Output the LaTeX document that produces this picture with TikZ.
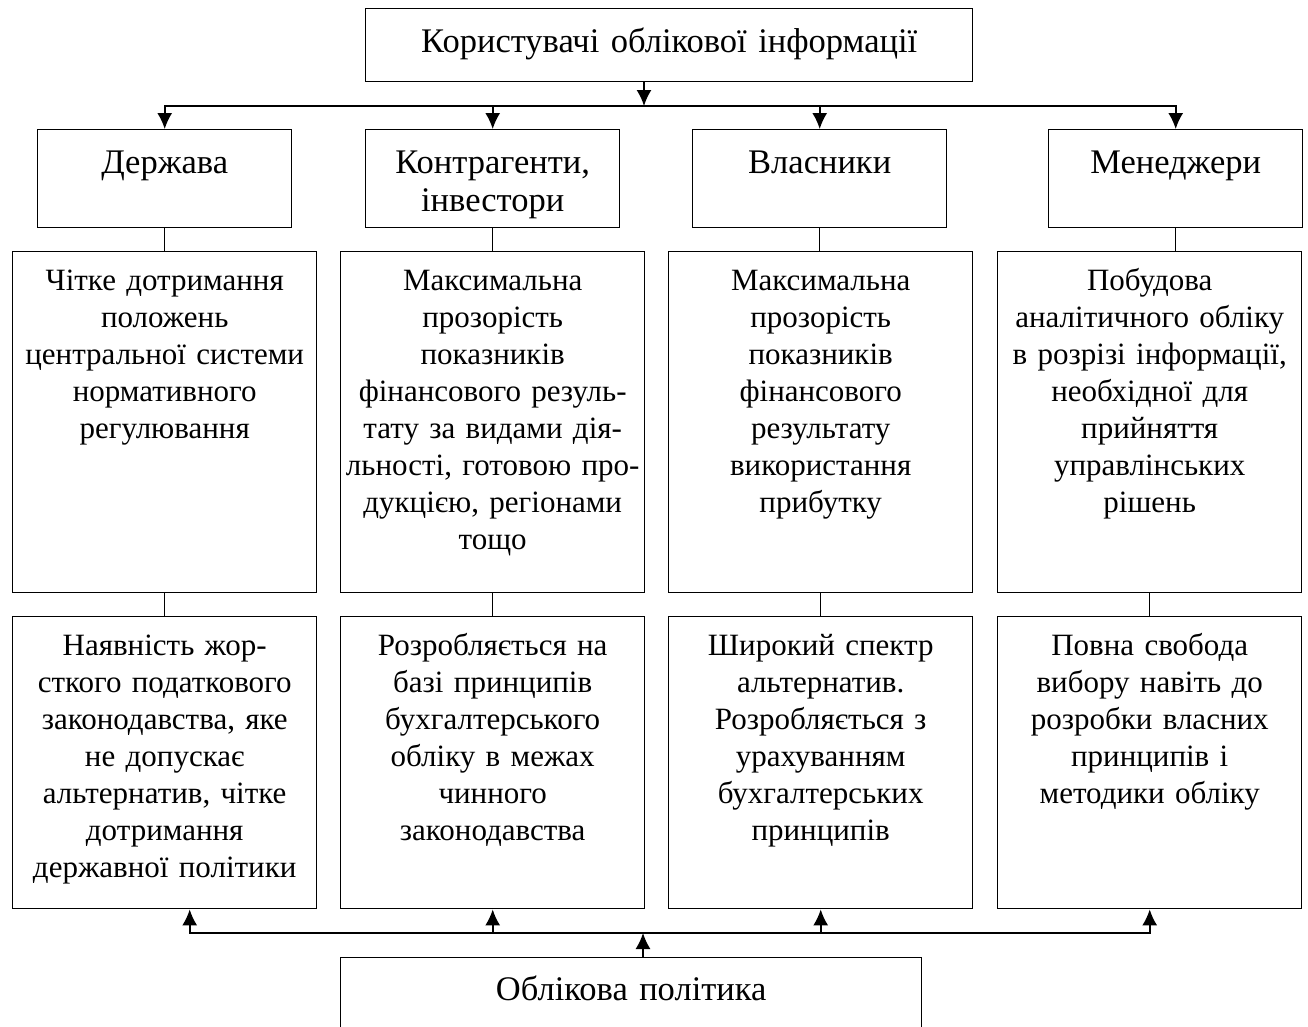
\documentclass[tikz,border=0pt]{standalone}
\usepackage{fontspec}
\setmainfont{Liberation Serif}
\usetikzlibrary{arrows.meta}

\tikzset{
  frame/.style={draw, line width=1.4pt, anchor=north west,
    inner xsep=0.5pt, inner ysep=0pt, align=center},
  big/.style={font={\fontsize{34.5}{38}\selectfont}},
  small/.style={font={\fontsize{31}{37}\selectfont}},
  headbox/.style={frame, big, text width=606pt, text height=44pt, text depth=29pt},
  userbox/.style={frame, big, text width=253pt, text height=44pt, text depth=54pt},
  needbox/.style={frame, small, text width=303pt, text height=38.5pt, text depth=302.5pt},
  rulebox/.style={frame, small, text width=303pt, text height=38.5pt, text depth=253.5pt},
  basebox/.style={frame, big, text width=580pt, text height=43pt, text depth=32pt},
}

\begin{document}
\begin{tikzpicture}[
    x=1pt, y=-1pt,
    arr/.style={line width=1.6pt, -{Latex[length=16pt,width=15pt]}},
    link/.style={line width=1.2pt}
  ]
  \useasboundingbox (0,0) rectangle (1308,1026);

  \node[headbox] (users) at (365,8) {Користувачі облікової інформації};

  \node[userbox] (state)    at (37,129)   {Держава};
  \node[userbox] (partners) at (365,129)  {Контрагенти,\\інвестори};
  \node[userbox] (owners)   at (692,129)  {Власники};
  \node[userbox] (managers) at (1048,129) {Менеджери};

  \node[needbox] (need1) at (12,251)
    {Чітке дотримання\\положень\\центральної системи\\нормативного\\регулювання};
  \node[needbox] (need2) at (340,251)
    {Максимальна\\прозорість\\показників\\фінансового резуль-\\тату  за видами дія-\\льності, готовою про-\\дукцією, регіонами\\тощо};
  \node[needbox] (need3) at (668,251)
    {Максимальна\\прозорість\\показників\\фінансового\\результату\\використання\\прибутку};
  \node[needbox] (need4) at (997,251)
    {Побудова\\аналітичного обліку\\в розрізі інформації,\\необхідної для\\прийняття\\управлінських\\рішень};

  \node[rulebox] (rule1) at (12,616)
    {Наявність жор-\\сткого податкового\\законодавства, яке\\не допускає\\альтернатив, чітке\\дотримання\\державної політики};
  \node[rulebox] (rule2) at (340,616)
    {Розробляється на\\базі принципів\\бухгалтерського\\обліку в межах\\чинного\\законодавства};
  \node[rulebox] (rule3) at (668,616)
    {Широкий спектр\\альтернатив.\\Розробляється з\\урахуванням\\бухгалтерських\\принципів};
  \node[rulebox] (rule4) at (997,616)
    {Повна свобода\\вибору навіть до\\розробки власних\\принципів і\\методики обліку};

  \node[basebox] (policy) at (340,957) {Облікова політика};

  \coordinate (fork) at (644,106);
  \coordinate (join) at (643,933);
  \coordinate (foot) at ([xshift=25pt]rule1.south);

  % users -> groups
  \draw[arr] (users.south -| fork) -- (fork);
  \draw[line width=1.6pt, line cap=rect] (state.north |- fork) -- (managers.north |- fork);
  \foreach \n in {state,partners,owners,managers}
    \draw[arr] (\n.north |- fork) -- (\n.north);

  % groups -> needs -> rules
  \foreach \a/\b in {state/need1,partners/need2,owners/need3,managers/need4}
    \draw[link] (\a.south) -- (\a.south |- \b.north);
  \foreach \i in {1,...,4}
    \draw[link] (need\i.south) -- (rule\i.north);

  % policy -> rules
  \draw[arr] (policy.north -| join) -- (join);
  \draw[line width=1.6pt, line cap=rect] (foot |- join) -- (rule4.south |- join);
  \draw[arr] (foot |- join) -- (foot);
  \foreach \n in {rule2,rule3,rule4}
    \draw[arr] (\n.south |- join) -- (\n.south);
\end{tikzpicture}
\end{document}
